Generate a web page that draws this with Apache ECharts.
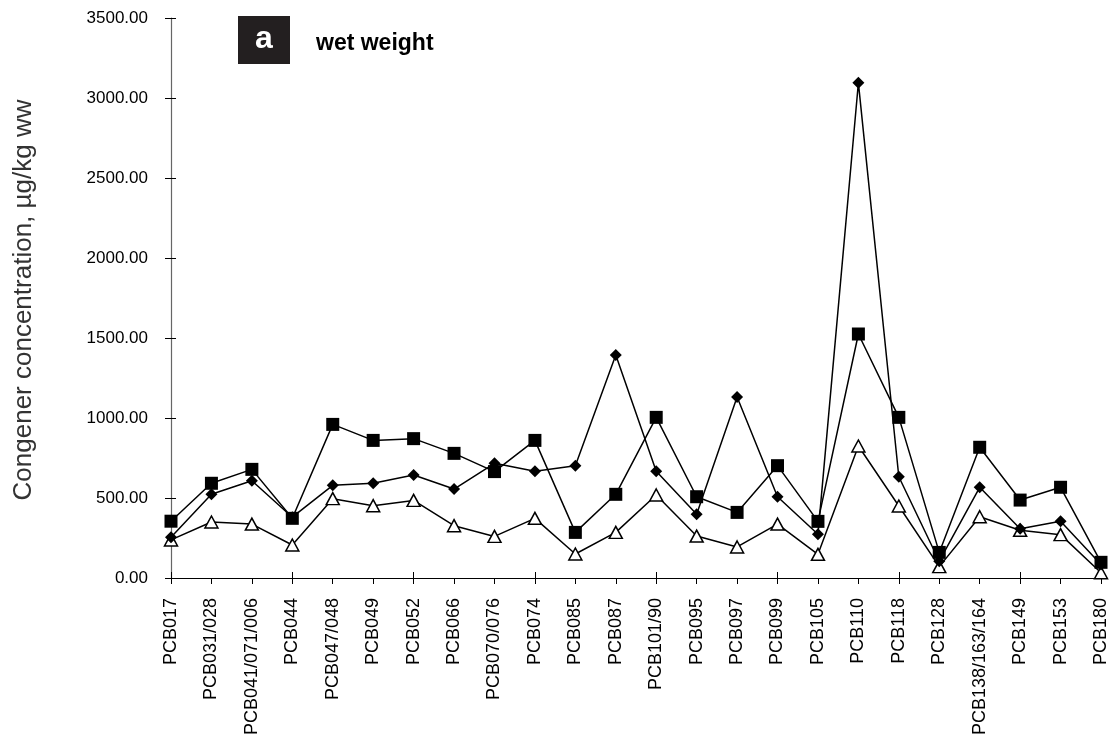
<!DOCTYPE html>
<html>
<head>
<meta charset="utf-8">
<style>
html,body{margin:0;padding:0;background:#fff;}
#chart{width:1111px;height:751px;}
</style>
<script src="https://cdn.jsdelivr.net/npm/echarts@6/dist/echarts.min.js"></script>
</head>
<body>
<div id="chart"></div>
<script>
var categories = ["PCB017","PCB031/028","PCB041/071/006","PCB044","PCB047/048","PCB049","PCB052","PCB066","PCB070/076","PCB074","PCB085","PCB087","PCB101/90","PCB095","PCB097","PCB099","PCB105","PCB110","PCB118","PCB128","PCB138/163/164","PCB149","PCB153","PCB180"];
var squareValues = [355,592,679,373,960,860,871,779,665,860,285,523,1004,508,410,702,354,1525,1004,160,817,487,567,98];
var diamondValues = [254,523,608,380,579,592,644,556,717,667,702,1394,667,398,1131,508,273,3095,633,105,567,308,354,85];
var triangleValues = [238,350,337,206,496,452,485,327,260,373,150,285,519,262,194,337,148,825,450,71,383,298,271,33];
var yTicks = [0,500,1000,1500,2000,2500,3000,3500];

var chart = echarts.init(document.getElementById('chart'));
var font = 'Liberation Sans, Arial, sans-serif';
var option = {
  animation: false,
  backgroundColor: '#fff',
  grid: {left: 171, right: 10, top: 18, bottom: 173, containLabel: false},
  xAxis: [{
    type: 'category', data: categories, boundaryGap: false, position: 'bottom',
    axisLine: {show: true, lineStyle: {color: '#000', width: 1.2}},
    axisTick: {show: true, inside: false, length: 6, alignWithLabel: true, lineStyle: {color: '#000'}},
    axisLabel: {rotate: 90, margin: 20, color: '#000', fontFamily: font, fontSize: 18, interval: 0},
    splitLine: {show: false}
  }, {
    type: 'category', data: categories, boundaryGap: false, position: 'bottom',
    axisLine: {show: false},
    axisTick: {show: true, inside: true, length: 6, lineStyle: {color: '#000'}},
    axisLabel: {show: false}, splitLine: {show: false}
  }],
  yAxis: [{
    type: 'value', min: yTicks[0], max: yTicks[yTicks.length-1], interval: 500, position: 'left',
    axisLine: {show: true, lineStyle: {color: '#666', width: 1.2}},
    axisTick: {show: true, inside: false, length: 6, lineStyle: {color: '#000'}},
    axisLabel: {margin: 23, color: '#000', fontFamily: font, fontSize: 17, formatter: function(v){return v.toFixed(2);}},
    splitLine: {show: false}
  }, {
    type: 'value', min: yTicks[0], max: yTicks[yTicks.length-1], interval: 500, position: 'left', offset: 0,
    axisLine: {show: false},
    axisTick: {show: true, inside: true, length: 5, lineStyle: {color: '#000'}},
    axisLabel: {show: false}, splitLine: {show: false}
  }],
  graphic: [
    {type: 'text', x: 24, y: 300, rotation: Math.PI/2, style: {text: 'Congener concentration, µg/kg ww', font: '26px ' + font, fill: '#333', textAlign: 'center', textVerticalAlign: 'middle'}},
    {type: 'rect', shape: {x: 238, y: 16, width: 52, height: 48}, style: {fill: '#231f20'}},
    {type: 'text', style: {text: 'a', x: 264, y: 39, font: 'bold 32px ' + font, fill: '#fff', textAlign: 'center', textVerticalAlign: 'middle'}},
    {type: 'text', style: {text: 'wet weight', x: 316, y: 44, font: 'bold 23px ' + font, fill: '#000', textAlign: 'left', textVerticalAlign: 'middle'}}
  ],
  series: [{
    type: 'line', data: triangleValues, symbol: 'triangle', symbolSize: [13, 12],
    lineStyle: {color: '#000', width: 1.5},
    itemStyle: {color: '#fff', borderColor: '#000', borderWidth: 1.5}
  }, {
    type: 'line', data: diamondValues, symbol: 'diamond', symbolSize: 12,
    lineStyle: {color: '#000', width: 1.5},
    itemStyle: {color: '#000', borderColor: '#000', borderWidth: 0}
  }, {
    type: 'line', data: squareValues, symbol: 'rect', symbolSize: 13,
    lineStyle: {color: '#000', width: 1.5},
    itemStyle: {color: '#000', borderColor: '#000', borderWidth: 0}
  }]
};
chart.setOption(option);
</script>
</body>
</html>
